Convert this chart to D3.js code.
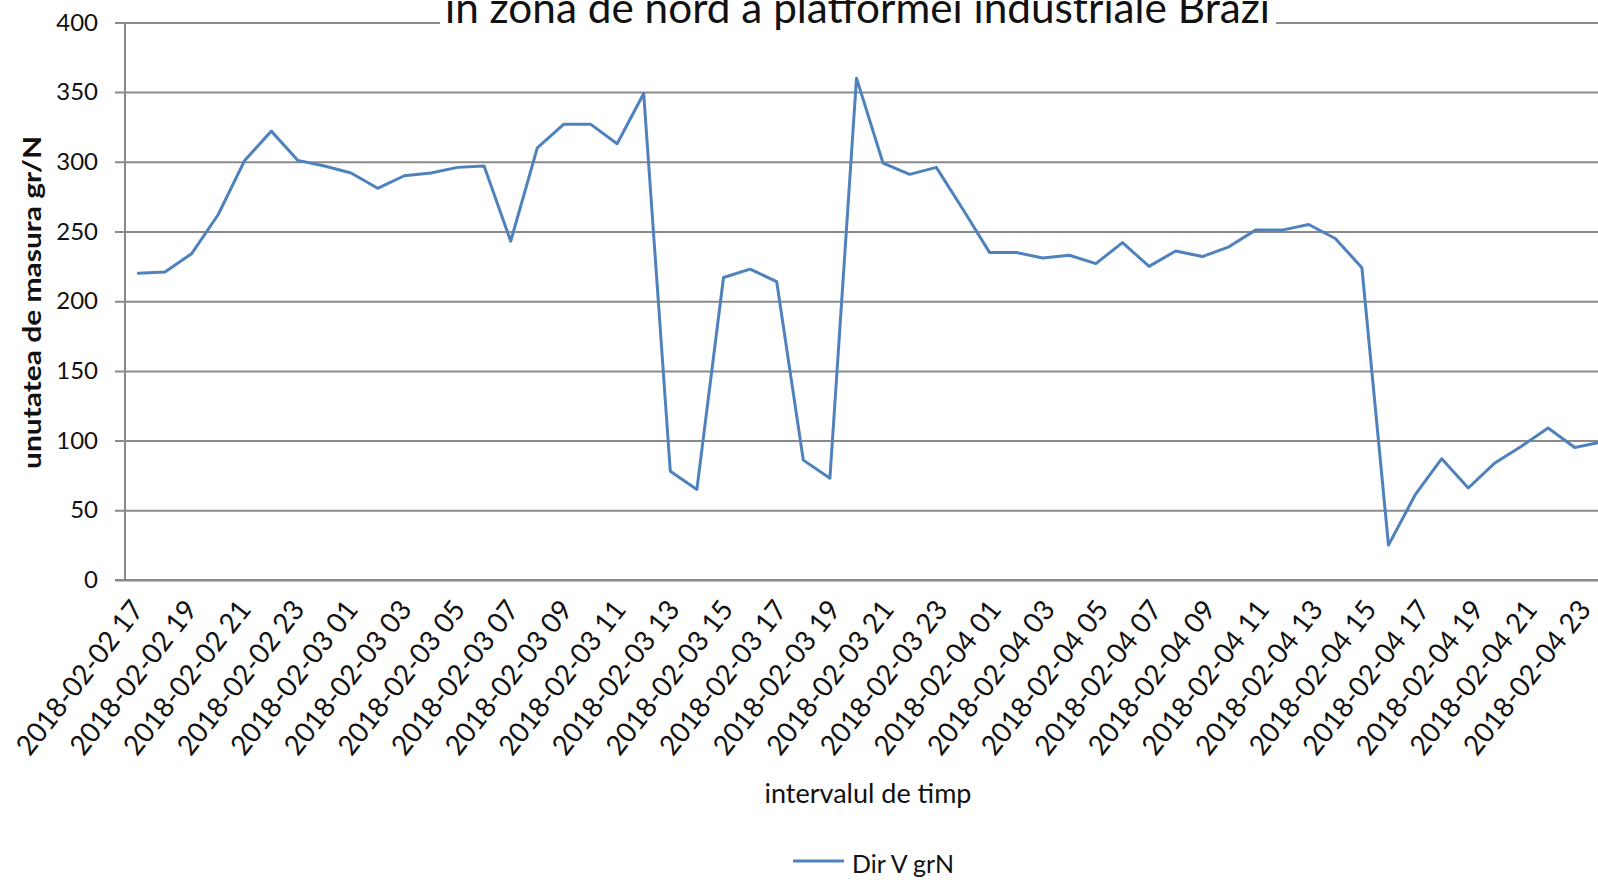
<!DOCTYPE html>
<html>
<head>
<meta charset="utf-8">
<script src="https://cdn.jsdelivr.net/npm/d3@7"></script>
<style>
  html, body { margin: 0; padding: 0; background: #fff; overflow: hidden; }
  text { font-family: Lato, "Liberation Sans", sans-serif; fill: #111; }
</style>
</head>
<body>
<svg id="chart" width="1598" height="880"></svg>
<script>
const categories = [
  "2018-02-02 17","2018-02-02 18","2018-02-02 19","2018-02-02 20","2018-02-02 21","2018-02-02 22","2018-02-02 23",
  "2018-02-03 00","2018-02-03 01","2018-02-03 02","2018-02-03 03","2018-02-03 04","2018-02-03 05","2018-02-03 06",
  "2018-02-03 07","2018-02-03 08","2018-02-03 09","2018-02-03 10","2018-02-03 11","2018-02-03 12","2018-02-03 13",
  "2018-02-03 14","2018-02-03 15","2018-02-03 16","2018-02-03 17","2018-02-03 18","2018-02-03 19","2018-02-03 20",
  "2018-02-03 21","2018-02-03 22","2018-02-03 23","2018-02-04 00","2018-02-04 01","2018-02-04 02","2018-02-04 03",
  "2018-02-04 04","2018-02-04 05","2018-02-04 06","2018-02-04 07","2018-02-04 08","2018-02-04 09","2018-02-04 10",
  "2018-02-04 11","2018-02-04 12","2018-02-04 13","2018-02-04 14","2018-02-04 15","2018-02-04 16","2018-02-04 17",
  "2018-02-04 18","2018-02-04 19","2018-02-04 20","2018-02-04 21","2018-02-04 22","2018-02-04 23","2018-02-05 00"
];
const seriesName = "Dir V grN";
const values = [
  220, 221, 234, 262, 301, 322, 301,
  297, 292, 281, 290, 292, 296, 297,
  243, 310, 327, 327, 313, 349, 78,
  65, 217, 223, 214, 86, 73, 360,
  299, 291, 296, 266, 235, 235, 231,
  233, 227, 242, 225, 236, 232, 239,
  251, 251, 255, 245, 224, 25, 61,
  87, 66, 84, 96, 109, 95, 99
];
const yTicks = [0, 50, 100, 150, 200, 250, 300, 350, 400];
const titleText = "în zona de nord a platformei industriale Brazi";
const xTitle = "intervalul de timp";
const yTitle = "unutatea de masura gr/N";

const svg = d3.select("#chart");
svg.append("rect").attr("width", 1598).attr("height", 880).attr("fill", "#fff");

const left = 125, step = 26.6;
const right = left + categories.length * step;
const x = d3.scalePoint().domain(categories).range([left, right]).padding(0.5);
const y = d3.scaleLinear().domain([0, 400]).range([580, 22.4]);
// label anchor scale (labels drift slightly relative to the points in the reference)
const xLab = d3.scalePoint().domain(categories).range([145, 145 + (categories.length - 1) * 26.8]);

// gridlines + y ticks
const yAxis = d3.axisLeft(y).tickValues(yTicks).tickSize(-(right - left)).tickPadding(27).tickFormat(d3.format("d"));
const gy = svg.append("g").attr("transform", `translate(${left},0)`).call(yAxis);
gy.select(".domain").remove();
gy.selectAll(".tick line").attr("x1", -10).attr("stroke", "#8a8a8a").attr("stroke-width", 2);
gy.selectAll(".tick text").attr("font-size", 24).attr("font-family", "Lato, sans-serif").attr("fill", "#111");

// y axis line
svg.append("line").attr("x1", left).attr("x2", left).attr("y1", y(400)).attr("y2", y(0))
  .attr("stroke", "#8a8a8a").attr("stroke-width", 2);

// title (with white background covering gridline)
svg.append("rect").attr("x", 440).attr("y", 0).attr("width", 836).attr("height", 33).attr("fill", "#fff");
svg.append("text").attr("x", 857.5).attr("y", 23).attr("text-anchor", "middle")
  .attr("font-size", 42).attr("textLength", 825).attr("lengthAdjust", "spacingAndGlyphs")
  .text(titleText);

// x tick labels (every 2nd category)
const labelCats = categories.filter((c, i) => i % 2 === 0);
svg.append("g").selectAll("text").data(labelCats).join("text")
  .attr("transform", d => `translate(${xLab(d)},610) rotate(-52)`)
  .attr("text-anchor", "end")
  .attr("font-size", 28)
  .attr("textLength", 187).attr("lengthAdjust", "spacingAndGlyphs")
  .text(d => d);

// x axis line
svg.append("line").attr("x1", left - 10).attr("x2", right).attr("y1", y(0)).attr("y2", y(0))
  .attr("stroke", "#8a8a8a").attr("stroke-width", 2);

// series line
const line = d3.line().x((d, i) => x(categories[i])).y(d => y(d));
svg.append("path").datum(values).attr("d", line)
  .attr("fill", "none").attr("stroke", "#4f82bd").attr("stroke-width", 3)
  .attr("stroke-linejoin", "round").attr("stroke-linecap", "round");

// axis titles
svg.append("text").attr("x", 868).attr("y", 803).attr("text-anchor", "middle")
  .attr("font-size", 26).attr("textLength", 207).attr("lengthAdjust", "spacingAndGlyphs")
  .text(xTitle);
svg.append("text").attr("transform", "translate(41,302.5) rotate(-90)").attr("text-anchor", "middle")
  .attr("font-size", 25).attr("font-weight", "bold").attr("textLength", 333).attr("lengthAdjust", "spacingAndGlyphs")
  .text(yTitle);

// legend
svg.append("line").attr("x1", 793).attr("x2", 844).attr("y1", 861).attr("y2", 861)
  .attr("stroke", "#4f82bd").attr("stroke-width", 3);
svg.append("text").attr("x", 852).attr("y", 873).attr("font-size", 25)
  .attr("textLength", 102).attr("lengthAdjust", "spacingAndGlyphs").text(seriesName);
</script>
</body>
</html>
